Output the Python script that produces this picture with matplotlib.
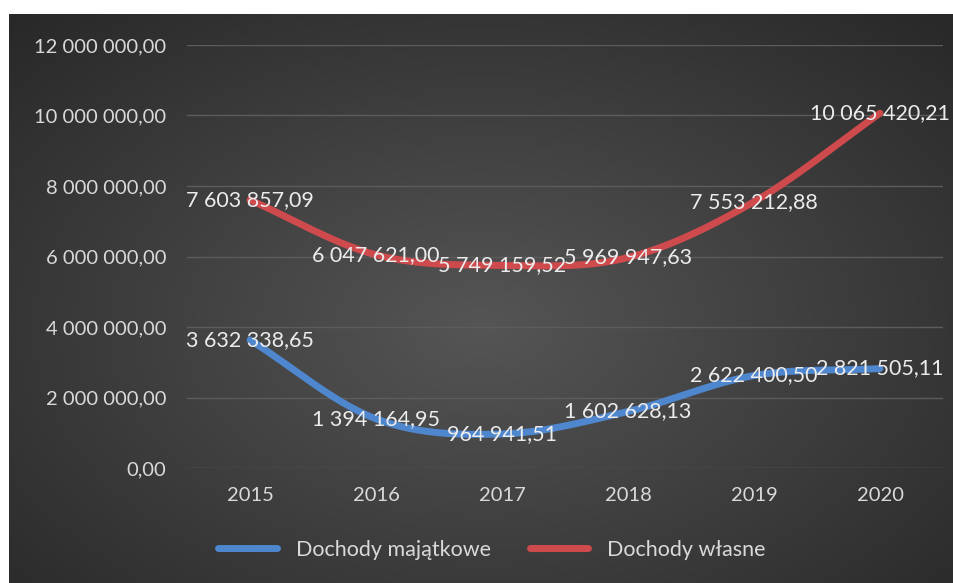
import numpy as np
import matplotlib
matplotlib.use("Agg")
import matplotlib.pyplot as plt
from matplotlib.lines import Line2D

years = ["2015", "2016", "2017", "2018", "2019", "2020"]
majatkowe = [3632338.65, 1394164.95, 964941.51, 1602628.13, 2622400.50, 2821505.11]
wlasne = [7603857.09, 6047621.00, 5749159.52, 5969947.63, 7553212.88, 10065420.21]
yticks = [0, 2000000, 4000000, 6000000, 8000000, 10000000, 12000000]
series_names = ["Dochody majątkowe", "Dochody własne"]

plt.rcParams['font.family'] = ['Lato', 'DejaVu Sans']

W, H = 954, 583
fig = plt.figure(figsize=(W / 100, H / 100), dpi=100)
fig.patch.set_facecolor("white")

# background with radial gradient
bx0, by0 = 9 / W, 0
bw, bh = 1 - 9 / W, (H - 14) / H
bg = fig.add_axes([bx0, by0, bw, bh])
yy, xx = np.mgrid[0:1:300j, 0:1:500j]
r = np.sqrt(((xx - 0.5) / 0.75) ** 2 + ((yy - 0.55) / 0.8) ** 2)
r = np.clip(r, 0, 1)
c0 = np.array([0x55, 0x55, 0x55]) / 255
c1 = np.array([0x26, 0x26, 0x26]) / 255
img = c0[None, None, :] * (1 - r[..., None]) + c1[None, None, :] * r[..., None]
bg.imshow(img, aspect="auto", extent=[0, 1, 0, 1], interpolation="bilinear")
bg.set_axis_off()

# plot area
px0, px1 = 187, 943
py_top, py_bot = 45, 468
ax = fig.add_axes([px0 / W, 1 - py_bot / H, (px1 - px0) / W, (py_bot - py_top) / H])
ax.set_facecolor("none")
ax.set_xlim(-0.5, 5.5)
ax.set_ylim(0, 12000000)
for s in ax.spines.values():
    s.set_visible(False)
ax.set_yticks(yticks)
ax.yaxis.grid(True, color="#5c5c5c", lw=1)
ax.set_axisbelow(True)
ax.tick_params(length=0, colors="#d9d9d9", labelsize=14.5)
ax.tick_params(axis="y", pad=15)
ax.tick_params(axis="x", pad=14)
x = np.arange(len(years))
ax.set_xticks(x)
ax.set_xticklabels(years)

def fmt(v):
    s = f"{v:,.2f}"
    return s.replace(",", " ").replace(".", ",")

ax.set_yticklabels([fmt(v) for v in yticks])

def smooth(xs, ys, n=30):
    xs = np.asarray(xs, float); ys = np.asarray(ys, float)
    px = np.concatenate([[2 * xs[0] - xs[1]], xs, [2 * xs[-1] - xs[-2]]])
    py = np.concatenate([[2 * ys[0] - ys[1]], ys, [2 * ys[-1] - ys[-2]]])
    ox, oy = [], []
    for i in range(1, len(px) - 2):
        p0, p1, p2, p3 = [np.array([px[j], py[j]]) for j in range(i - 1, i + 3)]
        t = np.linspace(0, 1, n)[:, None]
        c = 0.5 * ((2 * p1) + (-p0 + p2) * t + (2 * p0 - 5 * p1 + 4 * p2 - p3) * t ** 2
                   + (-p0 + 3 * p1 - 3 * p2 + p3) * t ** 3)
        ox.extend(c[:, 0]); oy.extend(c[:, 1])
    return np.array(ox), np.array(oy)

colors = ["#4f87cf", "#cf4a4c"]
for vals, col in zip([majatkowe, wlasne], colors):
    sx, sy = smooth(x, vals)
    ax.plot(sx, sy, color=col, lw=5, solid_capstyle="round", zorder=3)
    for xi, v in zip(x, vals):
        ax.text(xi, v, fmt(v), color="#ececec", fontsize=15.5, ha="center", va="center",
                zorder=4)

handles = [Line2D([0], [0], color=c, lw=5, solid_capstyle="round") for c in colors]
fig.legend(handles, series_names, loc="center", bbox_to_anchor=(492 / W, 1 - 550 / H),
           ncol=2, frameon=False, fontsize=15.5, labelcolor="#d9d9d9",
           handlelength=2.7, handletextpad=0.9, columnspacing=1.8)

fig.savefig("out.png", dpi=100, facecolor=fig.get_facecolor())
